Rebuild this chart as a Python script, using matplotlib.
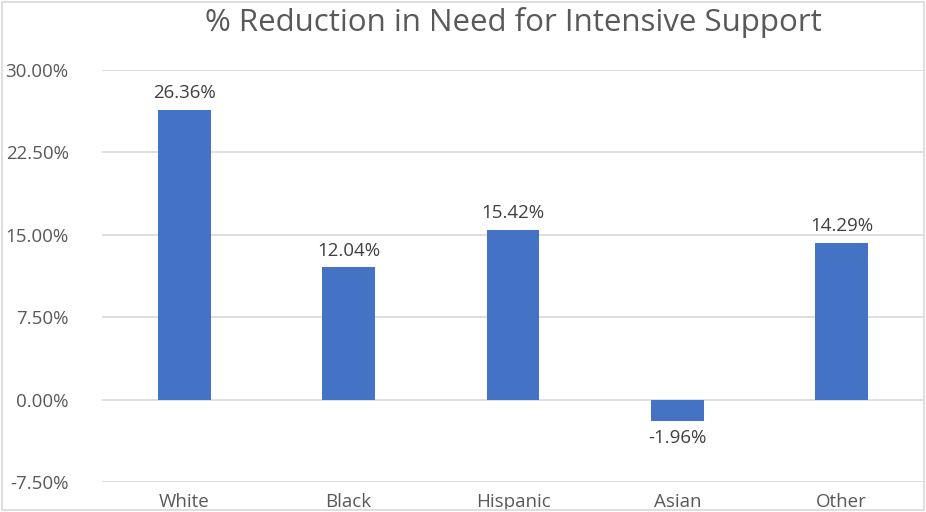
import matplotlib.pyplot as plt
from matplotlib.patches import Rectangle

categories = ['White', 'Black', 'Hispanic', 'Asian', 'Other']
reduction = [26.36, 12.04, 15.42, -1.96, 14.29]
yticks = [-7.5, 0, 7.5, 15, 22.5, 30]

plt.rcParams['font.family'] = ['Open Sans', 'DejaVu Sans']

fig = plt.figure(figsize=(9.26, 5.12), dpi=100)
ax = fig.add_axes([102 / 926, 30 / 512, 822 / 926, 412 / 512])

x = range(len(categories))
ax.bar(x, reduction, width=0.32, color='#4472C4', zorder=3)

for xi, v in zip(x, reduction):
    if v >= 0:
        ax.text(xi, v + 0.7, f'{v:.2f}%', ha='center', va='bottom',
                fontsize=13.5, color='#404040')
    else:
        ax.text(xi, v - 0.7, f'{v:.2f}%', ha='center', va='top',
                fontsize=13.5, color='#404040')

ax.set_xlim(-0.5, 4.5)
ax.set_ylim(-7.5, 30)
ax.set_yticks(yticks)
ax.set_yticklabels([f'{t:.2f}%' for t in yticks])
ax.set_xticks(list(x))
ax.set_xticklabels(categories)
ax.tick_params(axis='y', length=0, pad=24, labelsize=13.5, labelcolor='#595959')
ax.tick_params(axis='x', length=0, pad=8, labelsize=13.5, labelcolor='#595959')
ax.grid(axis='y', color='#D9D9D9', linewidth=1.2, zorder=0)
for s in ax.spines.values():
    s.set_visible(False)

fig.text(513 / 926, 1 - 23 / 512, '% Reduction in Need for Intensive Support',
         ha='center', va='center', fontsize=22.5, color='#595959')

fig.patches.append(Rectangle((2 / 926, 2 / 512), 1 - 4 / 926, 1 - 4 / 512,
                             transform=fig.transFigure, fill=False,
                             edgecolor='#D9D9D9', linewidth=1.2))

fig.savefig('out.png', dpi=100)
